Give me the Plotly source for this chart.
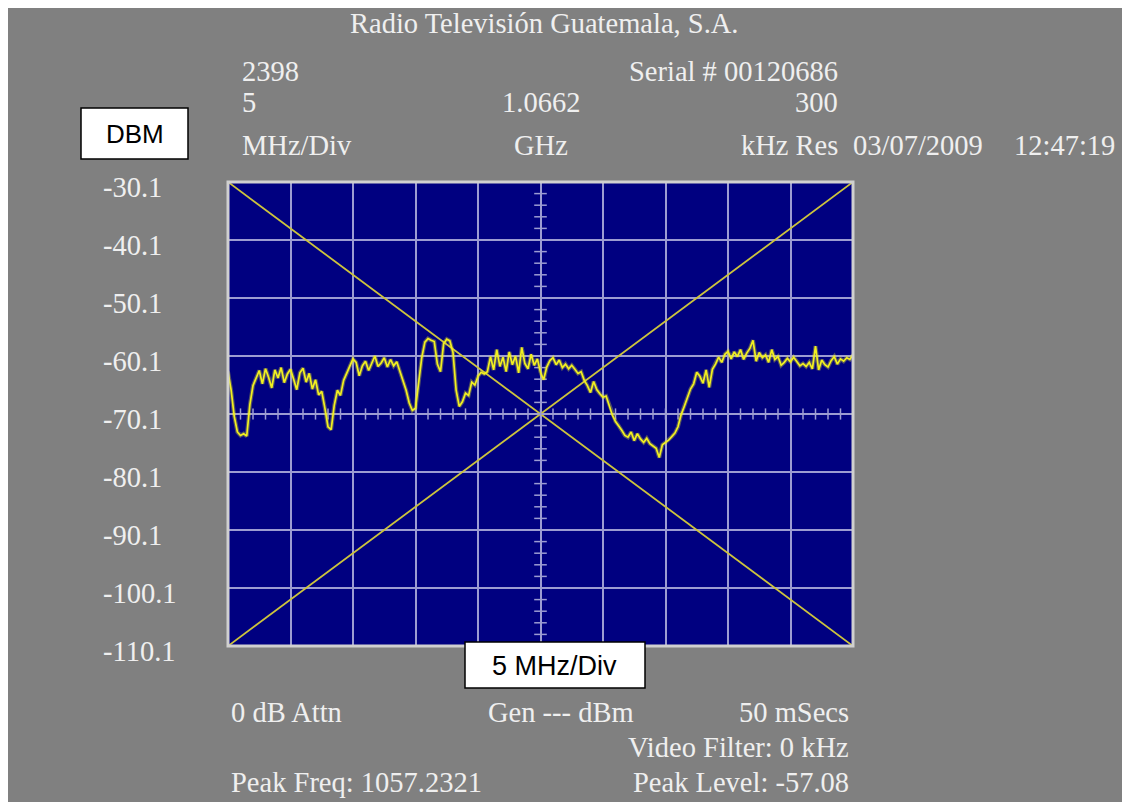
import plotly.graph_objects as go

# ---------------- data ----------------
FREQ_START_MHZ = 1041.2      # left edge of the sweep
FREQ_STEP_MHZ = 0.25         # sweep sample step
FREQ_SPAN_MHZ = 50.0         # 10 div x 5 MHz/Div
CENTER_MHZ = 1066.2

LEVEL_TOP = -30.1
LEVEL_BOTTOM = -110.1
y_tick_values = [-30.1, -40.1, -50.1, -60.1, -70.1, -80.1, -90.1, -100.1, -110.1]
y_tick_labels = ["-30.1", "-40.1", "-50.1", "-60.1", "-70.1", "-80.1", "-90.1", "-100.1", "-110.1"]

levels_dbm = [
    -62.8, -66.0, -70.5, -73.2, -73.8, -73.5, -73.9, -68.5, -65.2, -63.8,
    -62.6, -64.9, -62.3, -63.8, -65.6, -62.5, -63.9, -62.1, -64.7, -63.2,
    -62.4, -64.1, -65.9, -63.0, -62.2, -64.6, -63.1, -65.8, -64.2, -66.8,
    -66.2, -69.1, -72.3, -72.8, -68.6, -66.0, -66.9, -64.3, -63.1, -62.0,
    -60.6, -61.2, -63.5, -61.8, -61.0, -62.6, -61.4, -60.1, -61.9, -61.3,
    -60.4, -62.0, -60.7, -61.8, -61.1, -62.8, -64.2, -66.0, -68.2, -69.5,
    -69.1, -65.0, -60.4, -57.7, -57.1, -57.4, -57.6, -61.5, -62.8, -58.0,
    -57.2, -57.5, -59.5, -66.0, -68.8, -68.0, -66.5, -66.9, -64.6, -65.1,
    -63.6, -62.9, -63.2, -62.8, -60.2, -62.5, -59.0, -61.9, -60.3, -62.8,
    -59.4, -61.6, -60.1, -63.0, -58.6, -61.4, -62.3, -59.8, -61.7, -60.6,
    -62.9, -64.2, -62.0, -60.9, -60.4, -61.6, -60.8, -62.1, -61.5, -62.3,
    -61.7, -62.4, -63.1, -62.8, -64.3, -65.2, -66.4, -64.5, -65.9, -66.6,
    -67.2, -67.0, -68.6, -70.3, -71.4, -72.1, -72.9, -73.8, -74.1, -73.2,
    -74.7, -73.5, -74.4, -75.0, -74.3, -75.2, -75.6, -76.0, -77.6, -75.4,
    -75.0, -74.6, -74.0, -73.4, -72.3, -70.2, -68.8, -67.4, -65.8, -64.9,
    -62.9, -63.6, -64.8, -62.5, -65.5, -62.4, -61.5, -60.3, -61.2, -59.8,
    -59.3, -60.6, -59.4, -60.2, -59.0, -60.7, -59.6, -58.8, -57.4, -61.0,
    -59.5, -60.4, -59.9, -61.2, -59.0, -60.7, -60.2, -61.7, -61.2, -60.5,
    -61.1, -60.3, -61.0, -61.8, -61.4, -61.9, -61.2, -62.3, -58.4, -62.5,
    -60.8, -61.6, -62.0, -60.9, -60.2, -61.5, -60.6, -61.0, -60.4, -60.7,
    -59.9,
]

header_title = "Radio Televisión Guatemala, S.A."
header_left = ["2398", "5", "MHz/Div"]
header_center = ["", "1.0662", "GHz"]
header_right = ["Serial # 00120686", "300", "kHz Res"]
date_text = "03/07/2009"
time_text = "12:47:19"
footer_rows = [
    ("0 dB Attn", "Gen --- dBm", "50 mSecs"),
    ("", "", "Video Filter: 0 kHz"),
    ("Peak Freq: 1057.2321", "", "Peak Level: -57.08"),
]
unit_box_text = "DBM"
div_box_text = "5 MHz/Div"

# ---------------- derived ----------------
freqs = [FREQ_START_MHZ + FREQ_STEP_MHZ * i for i in range(len(levels_dbm))]
f_lo = FREQ_START_MHZ
f_hi = FREQ_START_MHZ + FREQ_SPAN_MHZ
ref_level = (LEVEL_TOP + LEVEL_BOTTOM) / 2.0

# ---------------- layout geometry ----------------
# page body margin of 8px puts the figure origin at (8, 8) on screen
OFF = 8
FW, FH = 1130, 802
SL, ST, W, H = 228, 182, 625, 464     # plot area on screen
L, T = SL - OFF, ST - OFF             # plot area inside the figure


def px(x):
    return (x - SL) / W


def py(y):
    return (ST + H - y) / H


GRID = "#9c9cd2"
TXT = "#efefef"
SERIF = "Liberation Serif, Times New Roman, serif"
SANS = "Liberation Sans, Arial, sans-serif"
FS = 28.5

fig = go.Figure()

# diagonals across the screen (corner to corner, on axis coords)
for ys in ([LEVEL_TOP, LEVEL_BOTTOM], [LEVEL_BOTTOM, LEVEL_TOP]):
    fig.add_trace(go.Scatter(x=[f_lo, f_hi], y=ys, mode="lines",
                             line=dict(color="#cdc43c", width=1.8), hoverinfo="skip", showlegend=False))

# minor ticks on the centre cross
ytick_minor = [LEVEL_BOTTOM + 2 * k for k in range(41)]
xtick_minor = [f_lo + k for k in range(51)]
fig.add_trace(go.Scatter(x=[CENTER_MHZ] * len(ytick_minor), y=ytick_minor, mode="markers",
                         marker=dict(symbol="line-ew", size=9, line=dict(color=GRID, width=1.5)),
                         hoverinfo="skip", showlegend=False))
fig.add_trace(go.Scatter(x=xtick_minor, y=[ref_level] * len(xtick_minor), mode="markers",
                         marker=dict(symbol="line-ns", size=8, line=dict(color=GRID, width=1.5)),
                         hoverinfo="skip", showlegend=False))

# spectrum trace (glow + core)
fig.add_trace(go.Scatter(x=freqs, y=levels_dbm, mode="lines",
                         line=dict(color="rgba(235,235,40,0.35)", width=4),
                         hoverinfo="skip", showlegend=False))
fig.add_trace(go.Scatter(x=freqs, y=levels_dbm, mode="lines",
                         line=dict(color="#f2f020", width=1.7), showlegend=False))

shapes = [
    # screen border
    dict(type="rect", xref="paper", yref="paper", x0=0, x1=1, y0=0, y1=1,
         line=dict(color="#d0d0d0", width=3), fillcolor="rgba(0,0,0,0)", layer="above"),
    # label boxes
    dict(type="rect", xref="paper", yref="paper", x0=px(81), x1=px(188), y0=py(159), y1=py(108),
         fillcolor="white", line=dict(color="black", width=1.5), layer="above"),
    dict(type="rect", xref="paper", yref="paper", x0=px(465), x1=px(645), y0=py(688), y1=py(642),
         fillcolor="white", line=dict(color="black", width=1.5), layer="above"),
]

ann = []


def add_text(text, x, y, anchor, font=SERIF, size=FS, color=TXT):
    if not text:
        return
    ann.append(dict(text=text, x=px(x), y=py(y), xref="paper", yref="paper",
                    xanchor=anchor, yanchor="middle", showarrow=False,
                    font=dict(family=font, size=size, color=color)))


add_text(header_title, 544, 23, "center")
row_y = [71, 103, 145]
for i in range(3):
    add_text(header_left[i], 240, row_y[i], "left")
    add_text(header_center[i], 540.5, row_y[i], "center")
    add_text(header_right[i], 840, row_y[i], "right")
add_text(date_text, 851, 145, "left")
add_text(time_text, 1117, 145, "right")

foot_y = [712, 747, 782]
for i, (a, b, c) in enumerate(footer_rows):
    add_text(a, 229, foot_y[i], "left")
    add_text(b, 561, foot_y[i], "center")
    add_text(c, 851, foot_y[i], "right")

add_text(unit_box_text, 134.5, 134, "center", font=SANS, size=26, color="black")
add_text(div_box_text, 554, 666, "center", font=SANS, size=27, color="black")

# level labels, placed on the y axis scale
for v, lab in zip(y_tick_values, y_tick_labels):
    ann.append(dict(text=lab, x=px(101), y=v, xref="paper", yref="y", xanchor="left",
                    yanchor="middle", yshift=-5, showarrow=False,
                    font=dict(family=SERIF, size=FS, color=TXT)))

fig.update_layout(
    width=FW, height=FH, autosize=False,
    margin=dict(l=L, r=FW - L - W, t=T, b=FH - T - H, pad=0),
    paper_bgcolor="#808080", plot_bgcolor="#000080",
    shapes=shapes, annotations=ann, showlegend=False,
    xaxis=dict(range=[f_lo, f_hi], tick0=f_lo, dtick=5, showgrid=True, gridcolor=GRID, gridwidth=1.5,
               showticklabels=False, ticks="", zeroline=False, showline=False, fixedrange=True),
    yaxis=dict(range=[LEVEL_BOTTOM, LEVEL_TOP], tick0=LEVEL_BOTTOM, dtick=10, showgrid=True,
               gridcolor=GRID, gridwidth=1.5, showticklabels=False, ticks="", zeroline=False,
               showline=False, fixedrange=True),
)

fig.write_html("out.html")
